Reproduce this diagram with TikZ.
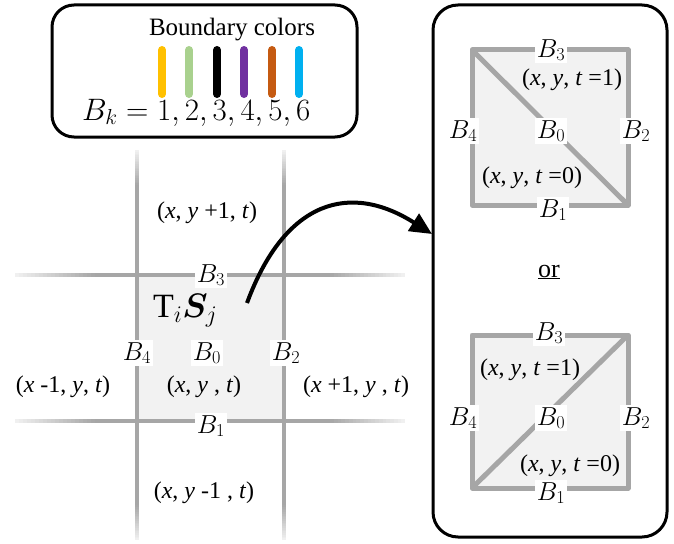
\RequirePackage{fix-cm}
\documentclass[tikz,border=0pt]{standalone}
\usepackage{bm}
\usepackage{fontspec}
\setmainfont{Liberation Serif}
\usetikzlibrary{arrows.meta,calc}
\definecolor{lgray}{HTML}{A6A6A6}
\definecolor{cellgray}{HTML}{F2F2F2}
\definecolor{bcA}{HTML}{FFC000}
\definecolor{bcB}{HTML}{A9D18E}
\definecolor{bcC}{HTML}{000000}
\definecolor{bcD}{HTML}{7030A0}
\definecolor{bcE}{HTML}{C55A11}
\definecolor{bcF}{HTML}{00B0F0}
\newcommand{\gfadeseg}[2]{%
  \foreach \i in {0,...,19}{%
    \pgfmathsetmacro\ta{\i/20}%
    \pgfmathsetmacro\tb{(\i+1.1)/20}%
    \pgfmathsetmacro\pc{15+(\i+0.5)*4.25}%
    \draw[line width=4pt, draw=lgray!\pc!white] ($#1!\ta!#2$) -- ($#1!\tb!#2$);
  }}
\begin{document}
\begin{tikzpicture}[x=1pt,y=-1pt,
  blab/.style={fill=white, inner sep=2pt, font=\fontsize{26}{28}\selectfont, anchor=base},
  coordtxt/.style={font=\fontsize{24}{26}\selectfont, inner sep=0pt},
  gline/.style={draw=lgray, line width=4pt},
  sqline/.style={draw=lgray, line width=5pt, fill=cellgray, line join=round},
  panel/.style={draw=black, line width=3pt, rounded corners=22pt},
  cbar/.style={line width=8pt, line cap=round}]
\useasboundingbox (0,0) rectangle (674,543);

% ---------- legend panel ----------
\draw[panel] (52,5) rectangle (357,137);
\node[font=\fontsize{25}{27}\selectfont, inner sep=0pt] (bctitle) at (232,30) {Boundary colors};
\foreach \c/\x in {bcA/162, bcB/189, bcC/217, bcD/244, bcE/272, bcF/299}{
  \draw[cbar, draw=\c] (\x,50) -- (\x,94);
}
\node[font=\fontsize{31}{33}\selectfont, inner sep=0pt, anchor=base west] (bk) at (82,120) {$B_k=1,2,3,4,5,6$};

% ---------- grid ----------
\fill[cellgray] (137,275) rectangle (284,421);
% horizontal lines
\foreach \y in {275,421}{
  \gfadeseg{(15,\y)}{(95,\y)}
  \draw[gline] (95,\y) -- (330,\y);
  \gfadeseg{(405,\y)}{(330,\y)}
}
% vertical lines
\foreach \x in {137,284}{
  \gfadeseg{(\x,150)}{(\x,185)}
  \draw[gline] (\x,185) -- (\x,505);
  \gfadeseg{(\x,540)}{(\x,505)}
}

\node[blab] (gB3) at (211,282) {$B_3$};
\node[blab] (gB1) at (211,433) {$B_1$};
\node[blab] (gB4) at (137,360) {$B_4$};
\node[blab] (gB0) at (207,360) {$B_0$};
\node[blab] (gB2) at (286,360) {$B_2$};
\node[font=\fontsize{34}{36}\selectfont, inner sep=0pt, anchor=base west] (tisj) at (153,317) {$\mathrm{T}_i\bm{S}_j$};

\node[coordtxt] (cup) at (207,213) {(\textit{x}, \textit{y} +1, \textit{t})};
\node[coordtxt] (cleft) at (63,387) {(\textit{x} -1, \textit{y}, \textit{t})};
\node[coordtxt] (cmid) at (204,387) {(\textit{x}, \textit{y} , \textit{t})};
\node[coordtxt] (cright) at (356,387) {(\textit{x} +1, \textit{y} , \textit{t})};
\node[coordtxt] (cdown) at (204,493) {(\textit{x}, \textit{y} -1 , \textit{t})};

% ---------- arrow ----------
\coordinate (astart) at (247,303);
\coordinate (aend) at (432,234);
\draw[line width=4pt, -{Triangle[length=22pt,width=20pt]}] (astart) .. controls (285,200) and (350,182) .. (aend);

% ---------- right panel ----------
\draw[panel, rounded corners=25pt] (433,5) rectangle (667,537);

% top square
\draw[sqline] (472,50) rectangle (628,205);
\draw[lgray, line width=5pt] (472,50) -- (628,205);
\node[blab] (tB3) at (551,57) {$B_3$};
\node[blab] (tB4) at (463,138) {$B_4$};
\node[blab] (tB0) at (551,138) {$B_0$};
\node[blab] (tB2) at (636,138) {$B_2$};
\node[blab] (tB1) at (553,217) {$B_1$};
\node[coordtxt] (tt1) at (572,80) {(\textit{x}, \textit{y}, \textit{t} =1)};
\node[coordtxt] (tt0) at (532,178) {(\textit{x}, \textit{y}, \textit{t} =0)};

\node[font=\fontsize{26}{28}\selectfont, inner sep=0pt] (or) at (549,272) {\underline{or}};

% bottom square
\draw[sqline] (472,335) rectangle (628,488);
\draw[lgray, line width=5pt] (472,488) -- (628,335);
\node[blab] (bB3) at (549,340) {$B_3$};
\node[blab] (bB4) at (463,425) {$B_4$};
\node[blab] (bB0) at (551,425) {$B_0$};
\node[blab] (bB2) at (636,425) {$B_2$};
\node[blab] (bB1) at (551,500) {$B_1$};
\node[coordtxt] (bt1) at (530,370) {(\textit{x}, \textit{y}, \textit{t} =1)};
\node[coordtxt] (bt0) at (570,466) {(\textit{x}, \textit{y}, \textit{t} =0)};
\end{tikzpicture}
\end{document}
